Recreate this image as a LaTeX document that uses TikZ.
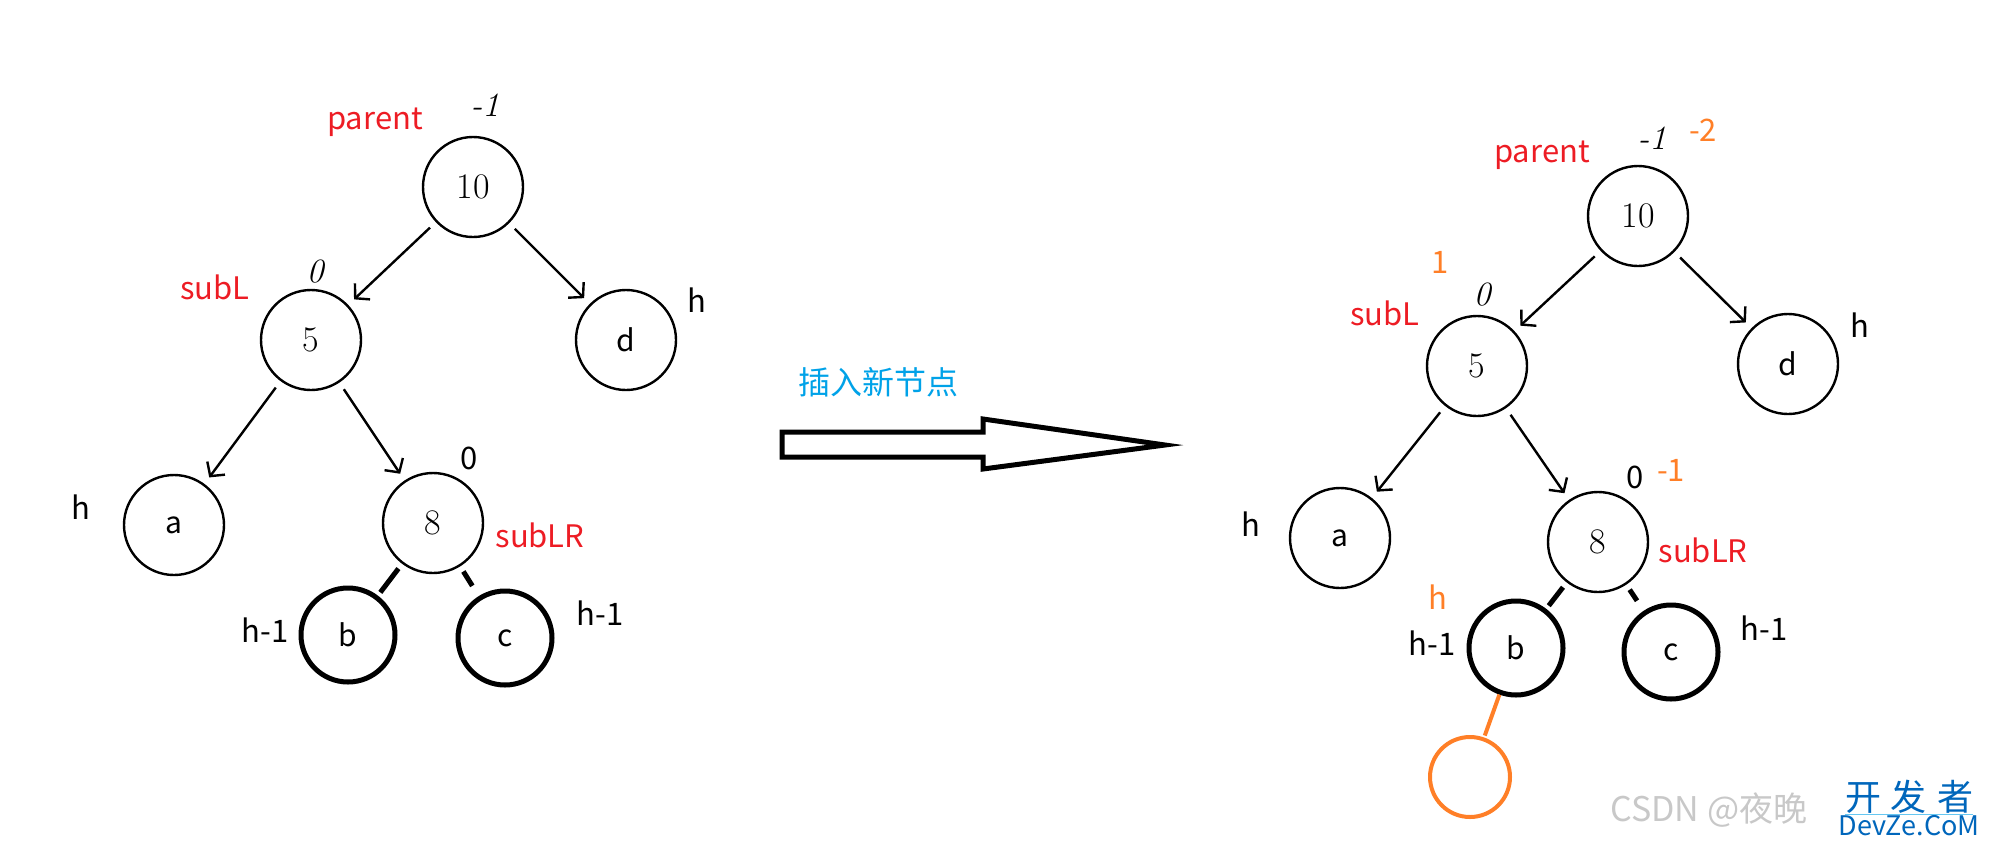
\documentclass[tikz,border=0pt]{standalone}
\usepackage{fontspec}
\newfontfamily\cjk{Noto Sans CJK SC}
\usetikzlibrary{positioning,arrows.meta,calc}
\definecolor{PaintRed}{RGB}{237,28,36}
\definecolor{PaintOrange}{RGB}{255,127,39}
\definecolor{PaintBlue}{RGB}{0,162,232}
\definecolor{MarkBlue}{RGB}{0,102,187}
\definecolor{MarkGray}{RGB}{200,200,200}
\tikzset{
  edge/.style={-{Straight Barb[length=5pt,width=11pt]},line width=1.2pt,
    shorten <=4pt,shorten >=4pt},
  bond/.style={line width=2.5pt,shorten <=3pt,shorten >=2pt},
  newbond/.style={line width=2pt,draw=PaintOrange,shorten >=1pt},
  keynode/.style={circle,draw,line width=1.2pt,minimum size=50pt,inner sep=0pt,
    font=\fontsize{18}{18}\selectfont},
  leafnode/.style={circle,draw,line width=1.2pt,minimum size=50pt,inner sep=0pt,
    font=\cjk\fontsize{15}{15}\selectfont},
  thickleaf/.style={leafnode,line width=2.5pt,minimum size=47pt},
  newnode/.style={circle,draw=PaintOrange,line width=2pt,minimum size=40pt,inner sep=0pt},
  tag/.style={font=\cjk\fontsize{15.5}{15.5}\selectfont,inner sep=0pt},
  redtag/.style={tag,text=PaintRed},
  orangetag/.style={tag,text=PaintOrange},
  bftag/.style={font=\itshape\fontsize{17}{17}\selectfont,inner sep=0pt},
  bigarrow/.style={line width=2.5pt,line join=miter}
}

\begin{document}
\begin{tikzpicture}[x=0.5pt,y=-0.5pt]
  \useasboundingbox (0,0) rectangle (1991,847);

  % before insertion
  \node[keynode] (L10) at (473,187) {10};
  \node[keynode] (L5) at (311,340) {5};
  \node[leafnode] (Ld) at (626,340) {d};
  \node[leafnode] (La) at (174,525) {a};
  \node[keynode] (L8) at (433,523) {8};
  \node[thickleaf] (Lb) at (348,635) {b};
  \node[thickleaf] (Lc) at (505,638) {c};
  \draw[edge] (L10) -- (L5);
  \draw[edge] (L10) -- (Ld);
  \draw[edge] (L5) -- (La);
  \draw[edge] (L5) -- (L8);
  \draw[bond] (L8) -- (Lb);
  \draw[bond,shorten >=6pt] (L8) -- (Lc);

  \node[redtag] (Lparent) at (375,122) {parent};
  \node[bftag] (Lbf10) at (485,105) {-1};
  \node[redtag] (LsubL) at (215,287) {subL};
  \node[bftag] (Lbf5) at (315,272) {0};
  \node[tag] (Lhd) at (697,300) {h};
  \node[tag] (Lha) at (81,507) {h};
  \node[tag] (Lbf8) at (469,458) {0};
  \node[redtag] (LsubLR) at (540,535) {subLR};
  \node[tag] (Lhb) at (265,630) {h-1};
  \node[tag] (Lhc) at (600,613) {h-1};

  % insertion arrow
  \node[font=\cjk\fontsize{16}{16}\selectfont,text=PaintBlue,inner sep=0pt] (insert) at (878,382) {插入新节点};
  \draw[bigarrow] (782,432) -- (983,432) -- (983,419) -- (1165,445)
    -- (983,469) -- (983,457) -- (782,457) -- cycle;

  % after insertion
  \node[keynode] (R10) at (1638,216) {10};
  \node[keynode] (R5) at (1477,366) {5};
  \node[leafnode] (Rd) at (1788,364) {d};
  \node[leafnode] (Ra) at (1340,538) {a};
  \node[keynode] (R8) at (1598,542) {8};
  \node[thickleaf] (Rb) at (1516,648) {b};
  \node[thickleaf] (Rc) at (1671,652) {c};
  \node[newnode] (Rnew) at (1470,777) {};
  \draw[edge] (R10) -- (R5);
  \draw[edge] (R10) -- (Rd);
  \draw[edge] (R5) -- (Ra);
  \draw[edge] (R5) -- (R8);
  \draw[bond] (R8) -- (Rb);
  \draw[bond,shorten >=6pt] (R8) -- (Rc);
  \draw[newbond] (Rb) -- (Rnew);

  \node[redtag] (Rparent) at (1542,155) {parent};
  \node[bftag] (Rbf10) at (1652,138) {-1};
  \node[orangetag] (Rnbf10) at (1703,130) {-2};
  \node[orangetag] (Rnbf5) at (1440,262) {1};
  \node[bftag] (Rbf5) at (1482,295) {0};
  \node[redtag] (RsubL) at (1385,313) {subL};
  \node[tag] (Rhd) at (1860,325) {h};
  \node[tag] (Rha) at (1251,524) {h};
  \node[tag] (Rbf8) at (1635,477) {0};
  \node[orangetag] (Rnbf8) at (1671,470) {-1};
  \node[redtag] (RsubLR) at (1703,550) {subLR};
  \node[orangetag] (Rhnew) at (1438,597) {h};
  \node[tag] (Rhb) at (1432,643) {h-1};
  \node[tag] (Rhc) at (1764,628) {h-1};

  % watermarks
  \node[font=\cjk\fontsize{17}{17}\selectfont,text=MarkGray,anchor=west,inner sep=0pt] (csdn) at (1610,810) {CSDN @夜晚};
  \node[font=\cjk\fontsize{18}{18}\selectfont,text=MarkBlue,inner sep=0pt] (devcn) at (1909,797) {开\hspace{5pt}发\hspace{5pt}者};
  \node[font=\cjk\fontsize{13.5}{13.5}\selectfont,text=MarkBlue,inner sep=0pt] (deven) at (1909,826) {DevZe.CoM};
  \draw[PaintBlue!60,line width=0.6pt] (devcn.south west) -- (devcn.south east);
\end{tikzpicture}
\end{document}
